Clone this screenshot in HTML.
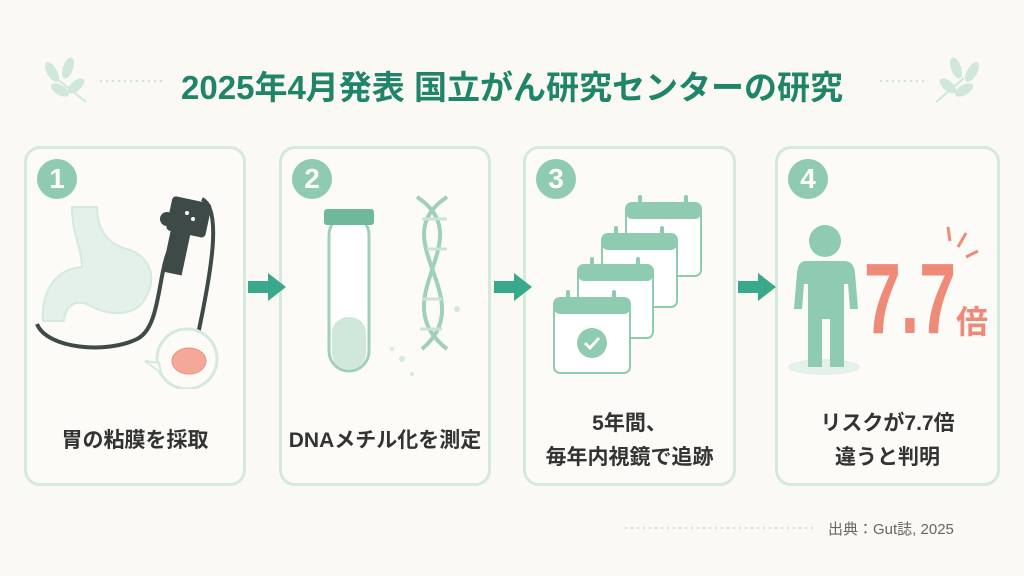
<!DOCTYPE html>
<html><head><meta charset="utf-8"><style>
body{margin:0;width:1024px;height:576px;background:#fbf9f4;overflow:hidden;font-family:"Liberation Sans","Noto Sans CJK JP",sans-serif;position:relative}
.t{position:absolute;left:0;width:1024px;top:61px;text-align:center;font-size:33px;font-weight:bold;color:#1f8468;letter-spacing:0px}
.card{position:absolute;top:146px;height:340px;border:3px solid #d4eadd;border-radius:16px;box-sizing:border-box;background:#fcfbf7}
.num{position:absolute;left:10px;top:10px;width:40px;height:40px;border-radius:50%;background:#8fcbb0;color:#fff;font-weight:bold;font-size:28px;text-align:center;line-height:40px}
.lab{position:absolute;left:0;right:0;text-align:center;font-size:21px;color:#333;font-weight:bold;line-height:34px}
</style></head><body>
<svg width="1024" height="576" style="position:absolute;left:0;top:0">
<g fill="#cfe8d9"><ellipse cx="52" cy="72" rx="5" ry="11" transform="rotate(-30 52 72)"/><ellipse cx="68" cy="68" rx="5" ry="11" transform="rotate(20 68 68)"/><ellipse cx="60" cy="90" rx="5" ry="10" transform="rotate(-60 60 90)"/><ellipse cx="76" cy="86" rx="5" ry="10" transform="rotate(50 76 86)"/>
<ellipse cx="972" cy="72" rx="5" ry="11" transform="rotate(30 972 72)"/><ellipse cx="956" cy="68" rx="5" ry="11" transform="rotate(-20 956 68)"/><ellipse cx="964" cy="90" rx="5" ry="10" transform="rotate(60 964 90)"/><ellipse cx="948" cy="86" rx="5" ry="10" transform="rotate(-50 948 86)"/></g>
<path d="M56 78 L86 102 M964 78 L936 102" stroke="#cfe8d9" stroke-width="2"/>
<line x1="100" y1="81" x2="165" y2="81" stroke="#cde3d6" stroke-width="2" stroke-dasharray="2 4"/>
<line x1="880" y1="81" x2="925" y2="81" stroke="#cde3d6" stroke-width="2" stroke-dasharray="2 4"/>
<line x1="625" y1="528" x2="815" y2="528" stroke="#cde3d6" stroke-width="2" stroke-dasharray="2 4"/>
</svg>
<div class="t">2025年4月発表 国立がん研究センターの研究</div>

<div class="card" style="left:24px;width:222px"><div class="num">1</div>
<svg width="222" height="240" style="position:absolute;left:0;top:0">
<path d="M45 58 L70 58 C70 80 80 95 100 100 C125 108 130 130 118 150 C110 165 85 170 60 155 C45 150 38 160 37 172 L16 172 C14 140 30 120 55 118 C55 100 45 85 45 58Z" fill="#e4f1ea" stroke="#d4eadd" stroke-width="2"/>
<path d="M10 175 C20 200 80 205 110 190 C135 178 130 120 145 95" stroke="#3e4a48" stroke-width="4" fill="none"/>
<path d="M175 50 C195 60 185 120 170 190" stroke="#3e4a48" stroke-width="4" fill="none"/>
<rect x="140" y="75" width="20" height="50" fill="#3e4a48" transform="rotate(12 150 100)"/>
<rect x="142" y="50" width="40" height="35" rx="4" fill="#3e4a48" transform="rotate(12 160 67)"/>
<circle cx="140" cy="70" r="7" fill="#3e4a48"/>
<circle cx="160" cy="64" r="2" fill="#fff"/><circle cx="166" cy="70" r="2" fill="#fff"/>
<circle cx="160" cy="210" r="30" fill="#fcfbf7" stroke="#d4eadd" stroke-width="3"/>
<path d="M132 214 L118 212 L134 224Z" fill="#fcfbf7" stroke="#d4eadd" stroke-width="2"/>
<ellipse cx="162" cy="212" rx="17" ry="13" fill="#f4a89a" stroke="#ec8f80"/>
</svg>
<div class="lab" style="top:275px">胃の粘膜を採取</div></div>

<div class="card" style="left:279px;width:212px"><div class="num">2</div>
<svg width="212" height="240" style="position:absolute;left:0;top:0">
<rect x="47" y="66" width="40" height="156" rx="20" fill="#fff" stroke="#9fd0b8" stroke-width="3"/>
<rect x="50" y="168" width="34" height="52" rx="16" fill="#cfe8d9"/>
<rect x="42" y="60" width="50" height="16" rx="3" fill="#6fb89a"/>
<g stroke="#9fd0b8" stroke-width="4" fill="none"><path d="M165 48 C100 90 200 150 140 200"/><path d="M135 48 C200 90 100 150 165 200"/></g>
<g stroke="#c7e4d4" stroke-width="3"><line x1="140" y1="70" x2="165" y2="70"/><line x1="145" y1="100" x2="165" y2="100"/><line x1="140" y1="150" x2="160" y2="150"/><line x1="138" y1="180" x2="160" y2="180"/></g>
<g fill="#d4eadd"><circle cx="120" cy="210" r="3"/><circle cx="130" cy="225" r="2"/><circle cx="110" cy="200" r="2"/><circle cx="175" cy="160" r="3"/></g>
</svg>
<div class="lab" style="top:275px">DNAメチル化を測定</div></div>

<div class="card" style="left:523px;width:213px"><div class="num">3</div>
<svg width="213" height="240" style="position:absolute;left:0;top:0">
<g fill="#fff" stroke="#8fcbb0" stroke-width="2">
<rect x="100" y="54" width="75" height="73" rx="6"/><rect x="76" y="85" width="75" height="73" rx="6"/><rect x="52" y="116" width="75" height="73" rx="6"/><rect x="28" y="149" width="76" height="75" rx="6"/></g>
<g fill="#8fcbb0"><rect x="100" y="54" width="75" height="16" rx="6"/><rect x="76" y="85" width="75" height="16" rx="6"/><rect x="52" y="116" width="75" height="16" rx="6"/><rect x="28" y="149" width="76" height="16" rx="6"/><circle cx="66" cy="194" r="15"/></g>
<g stroke="#8fcbb0" stroke-width="4" stroke-linecap="round"><line x1="114" y1="48" x2="114" y2="60"/><line x1="160" y1="48" x2="160" y2="60"/><line x1="90" y1="79" x2="90" y2="91"/><line x1="136" y1="79" x2="136" y2="91"/><line x1="66" y1="110" x2="66" y2="122"/><line x1="112" y1="110" x2="112" y2="122"/><line x1="42" y1="143" x2="42" y2="155"/><line x1="88" y1="143" x2="88" y2="155"/></g>
<path d="M59 194 L64 199 L73 189" stroke="#fff" stroke-width="3" fill="none"/>
</svg>
<div class="lab" style="top:258px">5年間、<br>毎年内視鏡で追跡</div></div>

<div class="card" style="left:775px;width:225px"><div class="num">4</div>
<svg width="225" height="240" style="position:absolute;left:0;top:0">
<ellipse cx="46" cy="218" rx="36" ry="8" fill="#e4f1ea"/>
<g fill="#8fcbb0"><circle cx="47" cy="92" r="16"/><path d="M28 112 L66 112 Q76 112 77 124 L80 160 L72 160 L70 135 L66 135 L66 218 L52 218 L52 170 L44 170 L44 218 L30 218 L30 135 L26 135 L24 160 L16 160 L19 124 Q20 112 28 112Z"/></g>
<g stroke="#f08a78" stroke-width="3"><line x1="170" y1="78" x2="172" y2="92"/><line x1="188" y1="84" x2="180" y2="98"/><line x1="200" y1="102" x2="188" y2="108"/></g>
<text x="86" y="184" font-family="Liberation Sans" font-weight="bold" font-size="100" fill="#f08a78" textLength="92" lengthAdjust="spacingAndGlyphs">7.7</text>
<text x="178" y="184" font-family="Noto Sans CJK JP" font-weight="bold" font-size="32" fill="#f08a78">倍</text>
</svg>
<div class="lab" style="top:258px">リスクが7.7倍<br>違うと判明</div></div>

<svg width="1024" height="30" style="left:0;top:272px;position:absolute">
<g fill="#3aa88a"><path d="M248 9h20v-8l18 14-18 14v-8h-20z"/><path d="M494 9h20v-8l18 14-18 14v-8h-20z"/><path d="M738 9h20v-8l18 14-18 14v-8h-20z"/></g></svg>
<div style="position:absolute;left:828px;top:518px;font-size:15px;color:#666">出典：Gut誌, 2025</div>
</body></html>
